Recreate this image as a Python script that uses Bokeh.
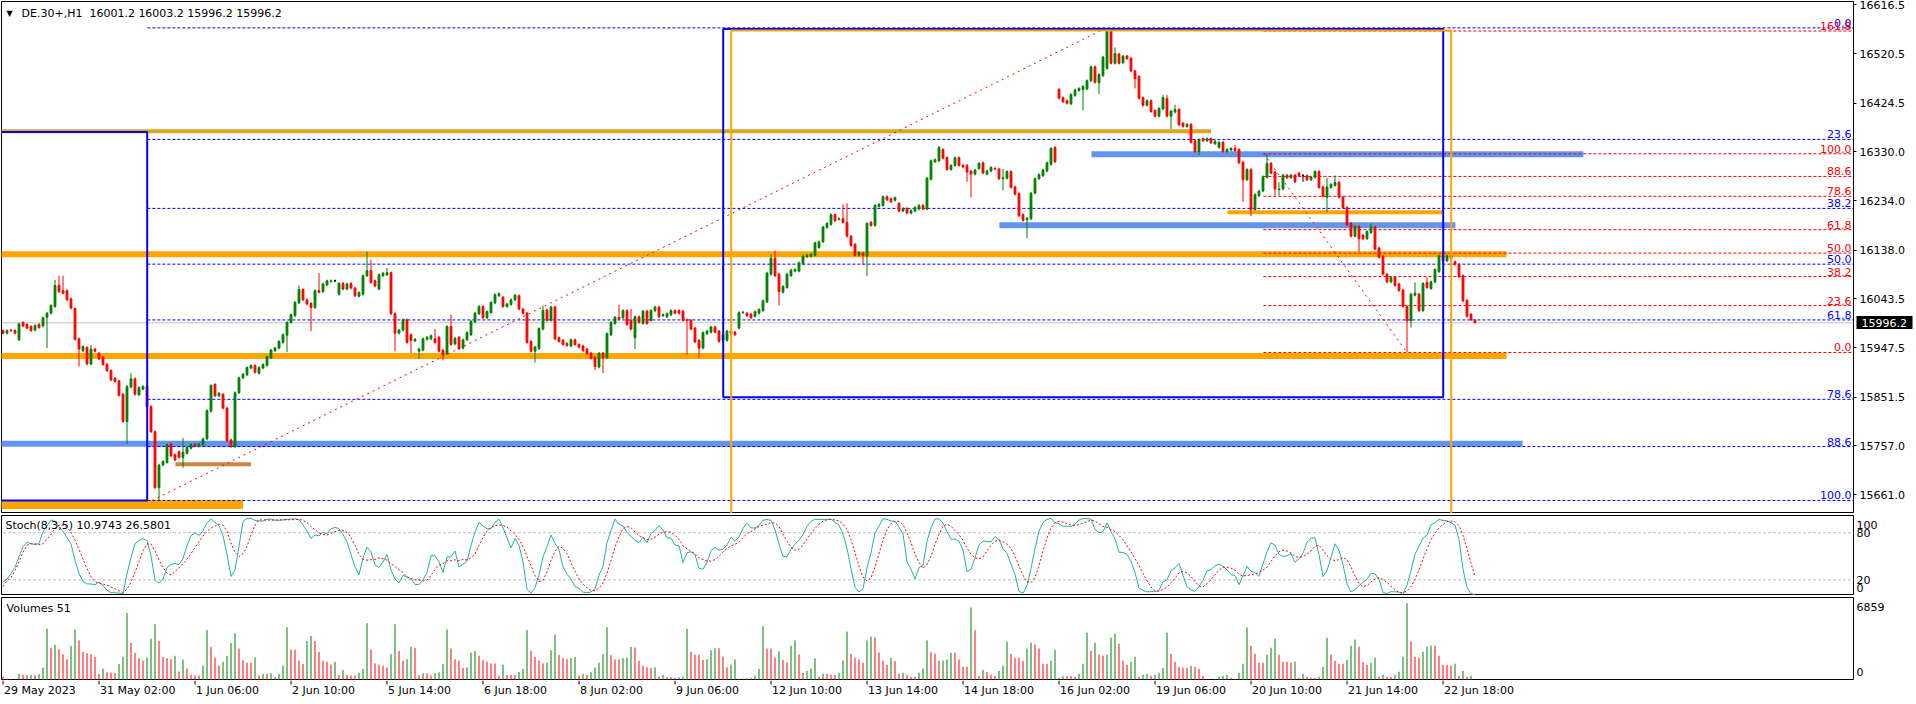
import numpy as np
from bokeh.plotting import figure
from bokeh.layouts import column
from bokeh.models import Range1d, FixedTicker, Label, ColumnDataSource, LinearAxis
from bokeh.core.properties import value
from bokeh.embed import file_html
from bokeh.resources import INLINE

FONT = "DejaVu Sans"
GREEN = "#008000"
RED = "#FF0000"

title_text = "DE.30+,H1\u00a0\u00a016001.2 16003.2 15996.2 15996.2"
stoch_text = "Stoch(8,3,5) 10.9743 26.5801"
vol_text = "Volumes 51"

opens = [
    15981, 15976, 15982, 15981, 15963, 15997, 15993, 15989, 15982, 15993,
    15990, 16007, 16015, 16028, 16069, 16059, 16059, 16043, 16024, 15965,
    15942, 15948, 15916, 15945, 15937, 15929, 15915, 15903, 15888, 15883,
    15857, 15804, 15871, 15887, 15856, 15867, 15872, 15833, 15784, 15675,
    15719, 15724, 15760, 15739, 15745, 15734, 15742, 15752, 15760, 15756,
    15759, 15770, 15824, 15876, 15854, 15857, 15830, 15768, 15755, 15860,
    15889, 15895, 15908, 15913, 15898, 15908, 15913, 15928, 15942, 15947,
    15958, 15972, 15997, 16010, 16035, 16061, 16041, 16034, 16026, 16059,
    16057, 16070, 16077, 16078, 16052, 16073, 16062, 16073, 16064, 16048,
    16052, 16088, 16098, 16078, 16062, 16088, 16090, 16094, 16014, 15976,
    15982, 16002, 15973, 15961, 15941, 15943, 15964, 15965, 15965, 15968,
    15943, 15936, 15989, 15955, 15968, 15947, 15963, 15973, 15998, 16014,
    16028, 16006, 16016, 16035, 16049, 16046, 16028, 16032, 16041, 16049,
    16023, 16015, 15960, 15941, 15946, 15984, 16021, 16001, 16027, 15967,
    15962, 15956, 15951, 15963, 15954, 15951, 15945, 15937, 15929, 15910,
    15937, 15928, 15973, 15995, 16007, 16006, 16020, 16001, 15967, 16008,
    15995, 16019, 16001, 16020, 16027, 16010, 16008, 16012, 16020, 16020,
    16019, 16002, 16001, 15986, 15962, 15947, 15975, 15978, 15988, 15980,
    15962, 15962, 15980, 15978, 15986, 16016, 16015, 16013, 16009, 16015,
    16020, 16037, 16091, 16122, 16091, 16056, 16065, 16088, 16097, 16097,
    16111, 16125, 16126, 16128, 16143, 16154, 16182, 16188, 16207, 16198,
    16199, 16192, 16165, 16149, 16128, 16132, 16126, 16192, 16186, 16223,
    16225, 16242, 16238, 16235, 16229, 16214, 16219, 16210, 16214, 16218,
    16225, 16218, 16276, 16310, 16312, 16334, 16318, 16295, 16303, 16318,
    16303, 16303, 16292, 16286, 16297, 16308, 16286, 16292, 16297, 16296,
    16277, 16278, 16291, 16261, 16248, 16207, 16197, 16199, 16249, 16277,
    16283, 16292, 16305, 16338, 16451, 16435, 16429, 16423, 16439, 16449,
    16451, 16452, 16468, 16495, 16464, 16478, 16492, 16564, 16502, 16520,
    16503, 16516, 16512, 16487, 16476, 16435, 16420, 16429, 16410, 16399,
    16413, 16433, 16399, 16407, 16412, 16385, 16379, 16383, 16351, 16330,
    16355, 16351, 16355, 16345, 16338, 16348, 16330, 16333, 16336, 16334,
    16309, 16275, 16295, 16217, 16244, 16253, 16280, 16307, 16290, 16256,
    16257, 16284, 16279, 16284, 16288, 16283, 16283, 16275, 16280, 16291,
    16261, 16241, 16260, 16264, 16270, 16241, 16221, 16190, 16165, 16184,
    16167, 16160, 16172, 16183, 16142, 16126, 16091, 16076, 16085, 16072,
    16060, 16028, 16000, 16050, 16052, 16020, 16075, 16063, 16076, 16096,
    16127, 16117, 16127, 16115, 16110, 16088, 16040, 16013, 16001.2,
]
closes = [
    15976, 15981, 15981, 15976, 15994, 15990, 15986, 15981, 15991, 15987,
    16006, 16015, 16030, 16069, 16057, 16054, 16041, 16025, 15964, 15945,
    15950, 15916, 15945, 15941, 15926, 15915, 15903, 15885, 15882, 15855,
    15804, 15872, 15887, 15857, 15870, 15872, 15833, 15784, 15675, 15719,
    15726, 15759, 15737, 15729, 15734, 15744, 15753, 15759, 15756, 15760,
    15770, 15825, 15874, 15854, 15859, 15830, 15766, 15755, 15860, 15889,
    15896, 15909, 15913, 15900, 15909, 15915, 15930, 15943, 15947, 15960,
    15973, 15997, 16012, 16036, 16061, 16041, 16033, 16026, 16059, 16056,
    16072, 16078, 16078, 16078, 16073, 16062, 16072, 16064, 16049, 16055,
    16088, 16098, 16075, 16068, 16090, 16093, 16094, 16014, 15976, 15982,
    16002, 15958, 15962, 15964, 15945, 15965, 15968, 15971, 15958, 15941,
    15934, 15989, 15954, 15966, 15946, 15963, 15977, 15999, 16015, 16028,
    16006, 16018, 16036, 16051, 16053, 16028, 16033, 16041, 16050, 16023,
    16015, 15958, 15941, 15949, 15985, 16020, 16001, 16027, 15965, 15960,
    15954, 15952, 15963, 15954, 15949, 15942, 15936, 15927, 15911, 15937,
    15928, 15975, 15997, 16007, 16004, 16020, 15993, 15984, 16008, 15997,
    16019, 15995, 16020, 16027, 16008, 16012, 16014, 16020, 16015, 16015,
    16001, 16001, 15984, 15959, 15947, 15977, 15980, 15988, 15978, 15960,
    15973, 15980, 15975, 15973, 16016, 16017, 16010, 16006, 16018, 16022,
    16039, 16093, 16122, 16088, 16057, 16067, 16091, 16099, 16100, 16113,
    16126, 16128, 16130, 16152, 16154, 16183, 16190, 16207, 16195, 16199,
    16192, 16165, 16147, 16128, 16133, 16127, 16190, 16186, 16225, 16227,
    16242, 16236, 16232, 16240, 16214, 16219, 16210, 16215, 16221, 16225,
    16218, 16278, 16312, 16314, 16338, 16317, 16295, 16303, 16318, 16303,
    16300, 16290, 16286, 16294, 16307, 16288, 16292, 16299, 16296, 16277,
    16279, 16291, 16260, 16247, 16205, 16196, 16200, 16249, 16277, 16285,
    16294, 16308, 16336, 16310, 16434, 16427, 16424, 16441, 16450, 16453,
    16457, 16468, 16495, 16465, 16480, 16514, 16564, 16502, 16521, 16502,
    16516, 16511, 16487, 16472, 16434, 16420, 16429, 16408, 16399, 16414,
    16435, 16399, 16409, 16412, 16382, 16379, 16383, 16348, 16330, 16353,
    16351, 16355, 16347, 16350, 16348, 16330, 16334, 16336, 16332, 16308,
    16275, 16295, 16217, 16246, 16253, 16281, 16307, 16288, 16257, 16257,
    16284, 16279, 16284, 16271, 16283, 16283, 16275, 16280, 16291, 16260,
    16243, 16261, 16266, 16270, 16241, 16221, 16187, 16165, 16184, 16160,
    16160, 16174, 16183, 16140, 16124, 16091, 16076, 16085, 16069, 16059,
    16028, 16000, 16052, 16054, 16020, 16073, 16065, 16076, 16100, 16127,
    16117, 16127, 16121, 16110, 16086, 16039, 16009, 16002, 15996.2,
]
# wick extremes (other bars: short wicks)
high_marks = {13: 16080, 14: 16088, 15: 16088, 22: 15953, 32: 15898, 45: 15772,
              74: 16069, 79: 16093, 91: 16135, 92: 16119, 96: 16103, 108: 15984,
              112: 16012, 135: 16030, 154: 16032, 157: 16023, 192: 16130,
              193: 16137, 210: 16227, 211: 16229, 250: 16296, 276: 16571,
              278: 16533, 290: 16440, 291: 16440, 293: 16421, 308: 16343,
              316: 16325, 319: 16270, 325: 16286, 331: 16279, 333: 16283,
              342: 16190, 353: 16075, 356: 16085, 368: 16003.2}
low_marks = {11: 15947, 19: 15911, 31: 15760, 39: 15650, 45: 15714, 71: 15939,
             77: 15980, 98: 15941, 102: 15937, 104: 15926, 110: 15923, 133: 15919,
             148: 15904, 150: 15898, 158: 15945, 171: 15934, 174: 15928,
             194: 16030, 215: 16109, 216: 16087, 241: 16271, 242: 16241,
             250: 16254, 256: 16161, 270: 16410, 274: 16442, 283: 16453,
             292: 16374, 299: 16323, 310: 16232, 312: 16204, 318: 16244,
             319: 16244, 325: 16271, 331: 16212, 339: 16135, 351: 15939,
             352: 15987, 368: 15996.2}
short_wick = 2.5

# first stochastic values (their history lies left of the chart)
stoch_main_lead = [17, 21, 28, 36, 49, 62, 68, 66, 65]
stoch_signal_lead = [11.5, 19, 23, 32, 43, 55, 64, 66, 66, 64.7, 66, 72, 78]

volumes = [
    350, 146, 146, 58, 584, 496, 467, 496, 467, 584,
    1139, 4614, 2891, 3154, 2774, 2336, 1898, 3066, 4526, 3562,
    2540, 2424, 2336, 2102, 584, 1051, 730, 701, 642, 1460,
    2102, 5986, 3329, 2453, 1986, 1752, 2044, 3708, 4993, 3504,
    2102, 1986, 1898, 2190, 788, 1850, 1051, 496, 438, 438,
    1314, 4468, 2978, 2044, 1314, 1664, 2161, 3329, 4205, 2832,
    1810, 1577, 1577, 2044, 438, 584, 584, 642, 292, 584,
    1314, 4730, 2745, 2745, 1752, 1460, 3504, 3942, 3504, 2540,
    1752, 1664, 1402, 1664, 496, 934, 496, 438, 438, 672,
    1022, 5081, 2716, 1518, 1402, 1314, 1168, 2336, 4993, 2628,
    1752, 1898, 2978, 2891, 438, 642, 642, 438, 642, 730,
    1460, 4526, 2832, 1898, 1752, 1110, 1168, 2482, 2628, 2190,
    1810, 1664, 1518, 1518, 438, 1402, 496, 496, 496, 759,
    1022, 4468, 2628, 2102, 1810, 1518, 1577, 2686, 4088, 2278,
    1986, 1898, 1986, 2102, 438, 584, 496, 730, 1168, 1577,
    2336, 4730, 2248, 1869, 1869, 1986, 2044, 2978, 2920, 1752,
    1314, 1168, 1110, 1168, 350, 496, 292, 292, 234, 292,
    350, 4584, 2540, 2278, 2278, 1810, 1898, 2686, 2862, 2862,
    2102, 1168, 1402, 1869, 146, 175, 175, 234, 438, 1022,
    4818, 2832, 2832, 2044, 2600, 1812, 1604, 3089, 3564, 2317,
    683, 861, 1069, 1960, 327, 594, 594, 505, 505, 683,
    1782, 4336, 2376, 2020, 1871, 1574, 3564, 3891, 3831, 2495,
    1752, 1396, 2020, 1723, 594, 683, 505, 327, 327, 683,
    1069, 3564, 2495, 2376, 1752, 1782, 1871, 2465, 2465, 1871,
    1218, 1218, 6475, 4455, 416, 950, 743, 505, 416, 861,
    1307, 3445, 2376, 2020, 2020, 1752, 2822, 3356, 3208, 2851,
    1485, 1485, 1752, 2732, 238, 386, 386, 386, 327, 594,
    1485, 4247, 2643, 3356, 2287, 2198, 2287, 3802, 4158, 3267,
    1752, 1396, 1663, 2109, 327, 505, 594, 416, 505, 683,
    1129, 4247, 2376, 1663, 1218, 1129, 1129, 1307, 1218, 1040,
    416, 59, 59, 149, 327, 416, 505, 238, 149, 683,
    1485, 4693, 3089, 2376, 1574, 1574, 2287, 2911, 3713, 2287,
    1663, 1663, 1574, 1663, 238, 594, 327, 238, 238, 327,
    1218, 3802, 2287, 1752, 1485, 1485, 1841, 3089, 3623, 3000,
    1663, 1396, 1574, 2020, 327, 505, 327, 327, 505, 772,
    2109, 6859, 3475, 2109, 2020, 2554, 3000, 3089, 3089, 2198,
    1396, 1396, 1307, 1485, 416, 861, 327, 416, 51,
]

bid_price = 15996.2
price_ticks = [16616.5, 16520.5, 16424.5, 16330.0, 16234.0, 16138.0,
               16043.5, 15947.5, 15851.5, 15757.0, 15661.0]
time_tick_bars = [0, 24, 48, 72, 96, 120, 144, 168, 192, 216, 240, 264, 288, 312, 336, 360]
time_tick_labels = ["29 May 2023", "31 May 02:00", "1 Jun 06:00", "2 Jun 10:00",
                    "5 Jun 14:00", "6 Jun 18:00", "8 Jun 02:00", "9 Jun 06:00",
                    "12 Jun 10:00", "13 Jun 14:00", "14 Jun 18:00", "16 Jun 02:00",
                    "19 Jun 06:00", "20 Jun 10:00", "21 Jun 14:00", "22 Jun 18:00"]

# Fibonacci tools (anchor prices and bar positions)
blue_fib_levels = [0.0, 23.6, 38.2, 50.0, 61.8, 78.6, 88.6, 100.0]
blue_fib_p0, blue_fib_p100 = 16571.0, 15650.0
blue_fib_start = 36.1
blue_fib_trend = ([37.3, 274.8], [15650.0, 16567.0])
red_fib_levels = [0.0, 23.6, 38.2, 50.0, 61.8, 78.6, 88.6, 100.0, 161.8]
red_fib_p0, red_fib_p100 = 15938.4, 16325.6
red_fib_start = 315.1
red_fib_trend = ([315.2, 351.0], [16325.6, 15938.4])

# horizontal zones: (price, bar_from, bar_to, colour, px thickness)
zones = [
    (16369.7, -5, 302.0, "#DAA520", 4),
    (16129.7, -5, 375.9, "#FFA500", 6),
    (15931.5, -5, 375.9, "#FFA500", 6),
    (15642.0, -5, 60.0, "#FFA500", 9),
    (15720.4, 43.1, 62.0, "#CD853F", 4),
    (15760.4, -5, 379.9, "#6495ED", 6),
    (16324.6, 272.1, 395.1, "#6495ED", 6),
    (16186.5, 249.1, 363.1, "#6495ED", 6),
    (16211.6, 306.1, 359.8, "#FFA500", 4),
]
# rectangles: (bar_left, bar_right, price_bottom, price_top, colour, px width)
boxes = [
    (-5, 36.05, 15650.0, 16368.0, "#0000FF", 2),
    (180.05, 360.05, 15851.0, 16569.0, "#0000FF", 2),
    (182.05, 362.05, 15500.0, 16566.0, "#FFA500", 2),
]

# ---------------------------------------------------------------- derived
n = len(closes)
idx = np.arange(n)
o = np.array(opens, dtype=float)
c = np.array(closes, dtype=float)
top = np.maximum(o, c)
bot = np.minimum(o, c)
hi = np.array([max(high_marks.get(i, top[i] + short_wick), top[i]) for i in range(n)])
lo = np.array([min(low_marks.get(i, bot[i] - short_wick), bot[i]) for i in range(n)])
ccol = [GREEN if c[i] > o[i] else (RED if c[i] < o[i] else "black") for i in range(n)]

# Stochastic(8,3,5) of the candles above
K, SL, D = 8, 3, 5
num = np.full(n, np.nan)
den = np.full(n, np.nan)
for i in range(K - 1, n):
    ll = lo[i - K + 1:i + 1].min()
    hh = hi[i - K + 1:i + 1].max()
    num[i] = c[i] - ll
    den[i] = hh - ll
main = np.full(n, np.nan)
for i in range(K - 1 + SL - 1, n):
    main[i] = 100.0 * num[i - SL + 1:i + 1].sum() / den[i - SL + 1:i + 1].sum()
main[:len(stoch_main_lead)] = stoch_main_lead
sig = np.full(n, np.nan)
for i in range(K - 1 + SL - 1 + D - 1, n):
    sig[i] = main[i - D + 1:i + 1].mean()
sig[:len(stoch_signal_lead)] = stoch_signal_lead

vol = np.array(volumes, dtype=float)
vcol = [RED] + [GREEN if vol[i] > vol[i - 1] else RED for i in range(1, n)]

# ---------------------------------------------------------------- layout
FW = 1852
RB = 62
xr = Range1d(-0.375, -0.375 + FW / 4.0)


def style_axis(ax):
    ax.axis_line_color = None
    ax.minor_tick_line_color = None
    ax.major_tick_in = 0
    ax.major_tick_out = 3
    ax.major_tick_line_color = "black"
    ax.major_label_standoff = 3
    ax.major_label_text_font = FONT
    ax.major_label_text_font_size = "11px"
    ax.major_label_text_color = "black"


def base_fig(fh, yr, top_border):
    f = figure(frame_width=FW, frame_height=fh, x_range=xr, y_range=yr,
               output_backend="svg", toolbar_location=None,
               x_axis_location=None, y_axis_location="right",
               min_border_left=1, min_border_right=RB, min_border_top=top_border,
               min_border_bottom=0, outline_line_color="black", outline_line_width=1,
               background_fill_color="white", border_fill_color="white")
    f.grid.visible = False
    style_axis(f.yaxis[0])
    return f


# price panel
p = base_fig(512, Range1d(15624.6, 16622.4), 1)
p.yaxis[0].ticker = FixedTicker(ticks=price_ticks)
p.yaxis[0].major_label_overrides = {t: f"{t:.1f}" for t in price_ticks}

# current-price marker on the price scale (black tag, white text)
bid_axis = LinearAxis(ticker=FixedTicker(ticks=[bid_price]),
                      major_label_overrides={bid_price: f"{bid_price:.1f}"})
style_axis(bid_axis)
bid_axis.major_tick_in = 51
bid_axis.major_tick_out = 5
bid_axis.major_tick_line_width = 13
bid_axis.major_tick_line_cap = "butt"
bid_axis.major_label_standoff = -51
bid_axis.major_label_text_color = "white"
p.add_layout(bid_axis, "right")

p.segment(x0=-5, y0=bid_price, x1=500, y1=bid_price, line_color="#C0C0C0", line_width=1)
for (py, x0, x1, col, w) in zones:
    p.segment(x0=x0, y0=py, x1=x1, y1=py, line_color=col, line_width=w, line_cap="butt")

for lev in blue_fib_levels:
    py = blue_fib_p0 + (blue_fib_p100 - blue_fib_p0) * lev / 100.0
    p.segment(x0=blue_fib_start, y0=py, x1=500, y1=py, line_color="#0000FF",
              line_width=1, line_dash="3 2")
    p.add_layout(Label(x=FW - 2, y=py, x_units="screen", text=f"{lev:.1f}",
                       text_align="right", text_baseline="bottom", y_offset=1,
                       text_color="#0000FF", text_font=FONT, text_font_size="11px"))
for lev in red_fib_levels:
    py = red_fib_p0 + (red_fib_p100 - red_fib_p0) * lev / 100.0
    p.segment(x0=red_fib_start, y0=py, x1=500, y1=py, line_color="#FF0000",
              line_width=1, line_dash="3 2")
    p.add_layout(Label(x=FW - 2, y=py, x_units="screen", text=f"{lev:.1f}",
                       text_align="right", text_baseline="bottom", y_offset=1,
                       text_color="#FF0000", text_font=FONT, text_font_size="11px"))

p.line(x=blue_fib_trend[0], y=blue_fib_trend[1], line_color="#FF0000", line_width=1, line_dash="2 4")
p.line(x=red_fib_trend[0], y=red_fib_trend[1], line_color="#FF0000", line_width=1, line_dash="2 4")

csrc = ColumnDataSource(dict(x=idx, h=hi, l=lo, top=top, bot=bot, col=ccol))
p.segment(x0="x", y0="l", x1="x", y1="h", line_color="col", line_width=1, source=csrc)
p.vbar(x="x", width=0.45, top="top", bottom="bot", fill_color="col", line_color="col",
       line_width=1, source=csrc)

for (x0, x1, b, t_, col, w) in boxes:
    p.quad(left=x0, right=x1, bottom=b, top=t_, fill_color=None, line_color=col, line_width=w)

p.add_layout(Label(x=5, y=500, x_units="screen", y_units="screen", text="\u25bc",
                   text_baseline="middle", text_font=FONT, text_font_size="8px",
                   text_color="black"))
p.add_layout(Label(x=20, y=500, x_units="screen", y_units="screen", text=title_text,
                   text_baseline="middle", text_font=FONT, text_font_size="11px",
                   text_color="black"))

# stochastic panel
s = base_fig(80, Range1d(0, 102.0), 2)
s_ticks = [89.4, 80, 20, 10.2]
s.yaxis[0].ticker = FixedTicker(ticks=s_ticks)
s.yaxis[0].major_label_overrides = {89.4: "100", 80: "80", 20: "20", 10.2: "0"}
s.yaxis[0].major_tick_out = 0
for lv in (20, 80):
    s.segment(x0=-5, y0=lv, x1=500, y1=lv, line_color="#C0C0C0", line_width=1, line_dash="3 2")
s.line(x=idx, y=main, line_color="#20B2AA", line_width=1)
s.line(x=idx, y=sig, line_color="#FF0000", line_width=1, line_dash="2 2")
s.add_layout(Label(x=4, y=70, x_units="screen", y_units="screen", text=stoch_text,
                   text_baseline="middle", text_font=FONT, text_font_size="11px",
                   text_color="black"))

# volume panel
v = base_fig(83, Range1d(0, 7365), 2)
v.yaxis[0].ticker = FixedTicker(ticks=[6566, 710])
v.yaxis[0].major_label_overrides = {6566: "6859", 710: "0"}
v.yaxis[0].major_tick_out = 0
vsrc = ColumnDataSource(dict(x=idx, v=vol, col=vcol))
v.segment(x0="x", y0=0, x1="x", y1="v", line_color="col", line_width=1, source=vsrc)
v.add_layout(Label(x=5, y=72, x_units="screen", y_units="screen", text=vol_text,
                   text_baseline="middle", text_font=FONT, text_font_size="11px",
                   text_color="black"))

# time labels strip
t = figure(frame_width=FW, frame_height=19, x_range=xr, y_range=Range1d(0, 19),
           output_backend="svg", toolbar_location=None, x_axis_location=None,
           y_axis_location=None, min_border_left=1, min_border_right=RB,
           min_border_top=0, min_border_bottom=0, outline_line_color=None,
           background_fill_color="white", border_fill_color="white")
t.grid.visible = False
t.segment(x0=time_tick_bars, y0=[19] * len(time_tick_bars), x1=time_tick_bars,
          y1=[15] * len(time_tick_bars), line_color="black", line_width=1)
t.text(x=time_tick_bars, y=[9] * len(time_tick_bars), text=time_tick_labels,
       text_font=value(FONT), text_font_size="11px", text_align="left",
       text_baseline="middle", x_offset=1, text_color="black")

layout = column(p, s, v, t, spacing=0)
open("out.html", "w").write(file_html(layout, INLINE))
